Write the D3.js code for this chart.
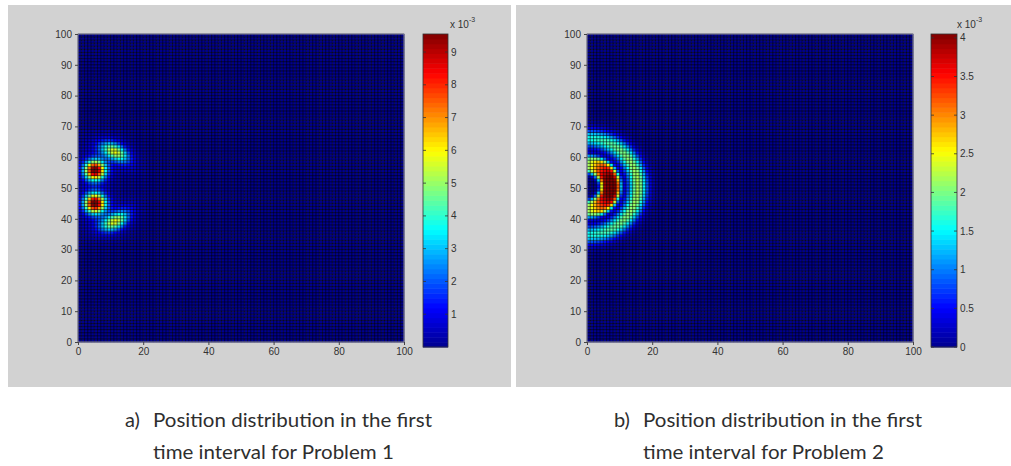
<!DOCTYPE html>
<html>
<head>
<meta charset="utf-8">
<script src="https://cdn.jsdelivr.net/npm/d3@7"></script>
<style>
  body { margin: 0; background: #fff; }
  svg { display: block; }
</style>
</head>
<body>
<div id="vis"></div>
<script>
const FRAME_WIDTH = 1011;
const FRAME_HEIGHT = 466;
const GRID_N = 100; // cells per side of each map

// ticks and labels
const X_TICKS = [0, 20, 40, 60, 80, 100];
const Y_TICKS = [0, 10, 20, 30, 40, 50, 60, 70, 80, 90, 100];
const CBAR_TICKS_A = [1, 2, 3, 4, 5, 6, 7, 8, 9];
const CBAR_TICKS_B = [0, 0.5, 1, 1.5, 2, 2.5, 3, 3.5, 4];
const CBAR_MAX_A = 9.55;
const CBAR_MAX_B = 4.05;
const CBAR_EXP = '-3';
const CAPTION_TAGS = ['a)', 'b)'];
const CAPTION_A = ['Position distribution in the first', 'time interval for Problem 1'];
const CAPTION_B = ['Position distribution in the first', 'time interval for Problem 2'];

// Problem 1 features: two peaks and two arcs (plus faint haze)
const P1_CX     = [5.2, 5.2, 5, 5, 5, 5, 5.2, 5.2];
const P1_CY     = [55.8, 45.1, 50.5, 50.5, 50.5, 50.5, 55.8, 45.1];
const P1_RADIUS = [0, 0, 13, 13, 13, 13, 0, 0];
const P1_WIDTH  = [2.2, 2.2, 1.7, 1.7, 3.4, 3.4, 4.5, 4.5];
const P1_ANGLE  = [0, 0, 61, -61, 61, -61, 0, 0];
const P1_SPREAD = [0, 0, 14, 14, 26, 26, 0, 0];
const P1_POWER  = [2, 2, 2, 2, 2, 2, 2, 2];
const P1_PEAK   = [9.6, 9.6, 4.9, 4.9, 0.9, 0.9, 0.6, 0.6];

// Problem 2 features: red crescent and outer ring round (0, 50)
const P2_CX     = [0, 0];
const P2_CY     = [50.5, 50.5];
const P2_RADIUS = [7.2, 15.6];
const P2_WIDTH  = [2.6, 2.1];
const P2_ANGLE  = [0, 0];
const P2_SPREAD = [74, 110];
const P2_POWER  = [4, 2];
const P2_PEAK   = [4.3, 2.2];

const PANELS = [
  {bg: [8, 5, 503, 382], plot: [78, 34, 326, 308], cbar: [423, 34, 25, 313], expX: 450,
   cmax: CBAR_MAX_A, cticks: CBAR_TICKS_A, caption: CAPTION_A, tag: CAPTION_TAGS[0], tagX: 125, textX: 153,
   parts: {cx: P1_CX, cy: P1_CY, radius: P1_RADIUS, width: P1_WIDTH, angle: P1_ANGLE, spread: P1_SPREAD, power: P1_POWER, peak: P1_PEAK}},
  {bg: [516, 5, 495, 382], plot: [587, 34, 326, 308], cbar: [931, 34, 26, 313], expX: 957,
   cmax: CBAR_MAX_B, cticks: CBAR_TICKS_B, caption: CAPTION_B, tag: CAPTION_TAGS[1], tagX: 614, textX: 643,
   parts: {cx: P2_CX, cy: P2_CY, radius: P2_RADIUS, width: P2_WIDTH, angle: P2_ANGLE, spread: P2_SPREAD, power: P2_POWER, peak: P2_PEAK}}
];

// MATLAB jet
const JET = d3.scaleLinear()
  .domain([0, 0.125, 0.375, 0.625, 0.875, 1])
  .range(['#00008f', '#0000ff', '#00ffff', '#ffff00', '#ff0000', '#800000'])
  .clamp(true);

function fieldValue(p, x, y) {
  let v = 0;
  for (let k = 0; k < p.peak.length; k++) {
    const dx = x - p.cx[k], dy = y - p.cy[k];
    const r = Math.hypot(dx, dy);
    const radial = Math.exp(-0.5 * Math.pow(Math.abs(r - p.radius[k]) / p.width[k], p.power[k]));
    let ang = 1;
    if (p.spread[k]) {
      const th = Math.atan2(dy, dx) * 180 / Math.PI;
      ang = Math.exp(-0.5 * Math.pow((th - p.angle[k]) / p.spread[k], 2));
    }
    v += p.peak[k] * radial * ang;
  }
  return v;
}

const svg = d3.select('#vis').append('svg')
  .attr('width', FRAME_WIDTH)
  .attr('height', FRAME_HEIGHT);

PANELS.forEach(P => {
  const [px, py, pw, ph] = P.plot;
  const X_SCALE = d3.scaleLinear().domain([0, 100]).range([px, px + pw]);
  const Y_SCALE = d3.scaleLinear().domain([0, 100]).range([py + ph, py]);
  const C_SCALE = d3.scaleLinear().domain([0, P.cmax]).range([0, 1]).clamp(true);

  // grey figure background
  svg.append('rect')
    .attr('x', P.bg[0]).attr('y', P.bg[1])
    .attr('width', P.bg[2]).attr('height', P.bg[3])
    .attr('fill', '#d2d2d2');

  // cells
  const cells = [];
  for (let i = 0; i < GRID_N; i++) {
    for (let j = 0; j < GRID_N; j++) {
      cells.push({i: i, j: j, v: fieldValue(P.parts, i + 0.5, j + 0.5)});
    }
  }
  const cw = X_SCALE(1) - X_SCALE(0);
  const ch = Y_SCALE(0) - Y_SCALE(1);
  svg.append('g').selectAll('rect')
    .data(cells)
    .enter()
    .append('rect')
      .attr('x', d => X_SCALE(d.i))
      .attr('y', d => Y_SCALE(d.j + 1))
      .attr('width', cw + 0.3)
      .attr('height', ch + 0.3)
      .attr('fill', d => JET(C_SCALE(d.v)));

  // faceted edges
  const edges = d3.range(0, GRID_N + 1);
  const eg = svg.append('g').attr('stroke', '#000').attr('stroke-opacity', 0.55).attr('stroke-width', 1);
  eg.selectAll('.vx').data(edges).enter().append('line')
    .attr('x1', d => X_SCALE(d)).attr('x2', d => X_SCALE(d))
    .attr('y1', py).attr('y2', py + ph);
  eg.selectAll('.hz').data(edges).enter().append('line')
    .attr('y1', d => Y_SCALE(d)).attr('y2', d => Y_SCALE(d))
    .attr('x1', px).attr('x2', px + pw);

  // axes box
  svg.append('rect')
    .attr('x', px).attr('y', py).attr('width', pw).attr('height', ph)
    .attr('fill', 'none').attr('stroke', '#8a8aa8').attr('stroke-width', 1);

  const xAxis = svg.append('g')
    .attr('transform', 'translate(0,' + (py + ph) + ')')
    .call(d3.axisBottom(X_SCALE).tickValues(X_TICKS).tickSize(3).tickPadding(3));
  const yAxis = svg.append('g')
    .attr('transform', 'translate(' + px + ',0)')
    .call(d3.axisLeft(Y_SCALE).tickValues(Y_TICKS).tickSize(3).tickPadding(3));
  [xAxis, yAxis].forEach(a => {
    a.select('.domain').remove();
    a.selectAll('line').attr('stroke', '#444');
    a.selectAll('text').attr('fill', '#333').attr('font-size', 10)
      .attr('font-family', 'Liberation Sans, Arial, sans-serif');
  });

  // colorbar
  const [bx, by, bw, bh] = P.cbar;
  const CB_SCALE = d3.scaleLinear().domain([0, P.cmax]).range([by + bh, by]);
  const levels = d3.range(0, 64);
  svg.append('g').selectAll('rect')
    .data(levels)
    .enter()
    .append('rect')
      .attr('x', bx)
      .attr('y', d => CB_SCALE(P.cmax * (d + 1) / 64))
      .attr('width', bw)
      .attr('height', bh / 64 + 0.5)
      .attr('fill', d => JET((d + 0.5) / 64));
  svg.append('rect')
    .attr('x', bx).attr('y', by).attr('width', bw).attr('height', bh)
    .attr('fill', 'none').attr('stroke', '#333').attr('stroke-width', 0.8);
  const tg = svg.append('g');
  tg.selectAll('.tl').data(P.cticks).enter().append('line')
    .attr('x1', bx).attr('x2', bx + 3)
    .attr('y1', d => CB_SCALE(d)).attr('y2', d => CB_SCALE(d))
    .attr('stroke', '#333').attr('stroke-width', 0.8);
  tg.selectAll('.tr').data(P.cticks).enter().append('line')
    .attr('x1', bx + bw - 3).attr('x2', bx + bw)
    .attr('y1', d => CB_SCALE(d)).attr('y2', d => CB_SCALE(d))
    .attr('stroke', '#333').attr('stroke-width', 0.8);
  tg.selectAll('text').data(P.cticks).enter().append('text')
    .attr('x', bx + bw + 3)
    .attr('y', d => CB_SCALE(d))
    .attr('dy', '0.35em')
    .attr('font-size', 10)
    .attr('font-family', 'Liberation Sans, Arial, sans-serif')
    .attr('fill', '#333')
    .text(d => d);

  // exponent
  const ex = svg.append('text')
    .attr('x', P.expX).attr('y', 28)
    .attr('font-size', 10)
    .attr('font-family', 'Liberation Sans, Arial, sans-serif')
    .attr('fill', '#333');
  ex.append('tspan').text('x 10');
  ex.append('tspan').attr('dy', -6).attr('font-size', 7).text(CBAR_EXP);

  // caption
  const capFont = 'Lato, "Open Sans", sans-serif';
  svg.append('text')
    .attr('x', P.tagX).attr('y', 427)
    .attr('font-size', 20).attr('font-family', capFont).attr('fill', '#2e2e2e')
    .text(P.tag);
  const lines = P.caption.map((t, k) => svg.append('text')
    .attr('x', P.textX).attr('y', 427 + 32 * k)
    .attr('font-size', 20).attr('font-family', capFont).attr('fill', '#2e2e2e')
    .text(t));
  const factor = 279 / lines[0].node().getComputedTextLength();
  lines.forEach(l => {
    l.attr('textLength', l.node().getComputedTextLength() * factor)
      .attr('lengthAdjust', 'spacingAndGlyphs');
  });
});
</script>
</body>
</html>
